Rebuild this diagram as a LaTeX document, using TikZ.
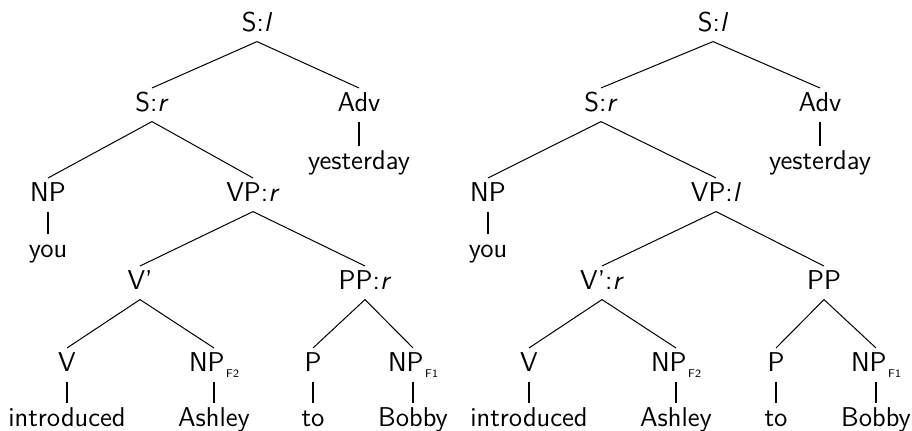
\documentclass[tikz,border=0pt]{standalone}
\usepackage{tikz}

\tikzset{
  cat/.style={inner sep=0pt, anchor=base, text height=11.8pt, text depth=4.6pt,
    font=\sffamily\fontsize{13.6}{16}\selectfont},
  branch/.style={line width=0.5pt},
  stem/.style={line width=1pt}
}
\newcommand{\fsub}[1]{\kern0.8pt\raisebox{-3pt}{\fontsize{5.6}{6}\selectfont #1}}

\begin{document}
\begin{tikzpicture}[x=0.5pt, y=-0.5pt]

    \useasboundingbox (0,0) rectangle (912,431);

    % Left tree
    % top two levels
    \node[cat] (SlA) at (257, 32) {S:\textit{l}};
    \node[cat] (SrA) at (152, 112) {S:\textit{r}};
    \node[cat] (AdvA) at (359, 112) {Adv};
    \node[cat] (yestA) at (359, 170) {yesterday};

    % subject and verb phrase
    \node[cat] (NPA) at (48, 202) {NP};
    \node[cat] (VPA) at (253, 202) {VP:\textit{r}};
    \node[cat] (youA) at (48, 258) {you};

    \node[cat] (VbA) at (140, 290) {V'};
    \node[cat] (PPA) at (365, 290) {PP:\textit{r}};

    % preterminals
    \node[cat] (VA) at (67, 372) {V};
    \node[cat] (NPbA) at (214, 372) {NP\fsub{F2}};
    \node[cat] (PA) at (313, 372) {P};
    \node[cat] (NPcA) at (413, 372) {NP\fsub{F1}};

    % words
    \node[cat] (introA) at (67, 427) {introduced};
    \node[cat] (ashA) at (214, 427) {Ashley};
    \node[cat] (toA) at (313, 427) {to};
    \node[cat] (bobA) at (413, 427) {Bobby};

    \draw[branch] (SrA.north) -- (SlA.south) -- (AdvA.north);
    \draw[branch] (NPA.north) -- (SrA.south) -- (VPA.north);
    \draw[branch] (VbA.north) -- (VPA.south) -- (PPA.north);
    \draw[branch] (VA.north) -- (VbA.south) -- (NPbA.north);
    \draw[branch] (PA.north) -- (PPA.south) -- (NPcA.north);
    \draw[stem] (AdvA.south) -- (yestA.north);
    \draw[stem] (NPA.south) -- (youA.north);
    \draw[stem] (VA.south) -- (introA.north);
    \draw[stem] (NPbA.south) -- (ashA.north);
    \draw[stem] (PA.south) -- (toA.north);
    \draw[stem] (NPcA.south) -- (bobA.north);

    % Right tree
    % top two levels
    \node[cat] (SlB) at (713, 32) {S:\textit{l}};
    \node[cat] (SrB) at (601, 112) {S:\textit{r}};
    \node[cat] (AdvB) at (820, 112) {Adv};
    \node[cat] (yestB) at (820, 170) {yesterday};

    % subject and verb phrase
    \node[cat] (NPB) at (488, 202) {NP};
    \node[cat] (VPB) at (716, 202) {VP:\textit{l}};
    \node[cat] (youB) at (488, 258) {you};

    \node[cat] (VbB) at (602, 290) {V':\textit{r}};
    \node[cat] (PPB) at (824, 290) {PP};

    % preterminals
    \node[cat] (VB) at (529, 372) {V};
    \node[cat] (NPbB) at (676, 372) {NP\fsub{F2}};
    \node[cat] (PB) at (776, 372) {P};
    \node[cat] (NPcB) at (876, 372) {NP\fsub{F1}};

    % words
    \node[cat] (introB) at (529, 427) {introduced};
    \node[cat] (ashB) at (676, 427) {Ashley};
    \node[cat] (toB) at (776, 427) {to};
    \node[cat] (bobB) at (876, 427) {Bobby};

    \draw[branch] (SrB.north) -- (SlB.south) -- (AdvB.north);
    \draw[branch] (NPB.north) -- (SrB.south) -- (VPB.north);
    \draw[branch] (VbB.north) -- (VPB.south) -- (PPB.north);
    \draw[branch] (VB.north) -- (VbB.south) -- (NPbB.north);
    \draw[branch] (PB.north) -- (PPB.south) -- (NPcB.north);
    \draw[stem] (AdvB.south) -- (yestB.north);
    \draw[stem] (NPB.south) -- (youB.north);
    \draw[stem] (VB.south) -- (introB.north);
    \draw[stem] (NPbB.south) -- (ashB.north);
    \draw[stem] (PB.south) -- (toB.north);
    \draw[stem] (NPcB.south) -- (bobB.north);

\end{tikzpicture}
\end{document}
